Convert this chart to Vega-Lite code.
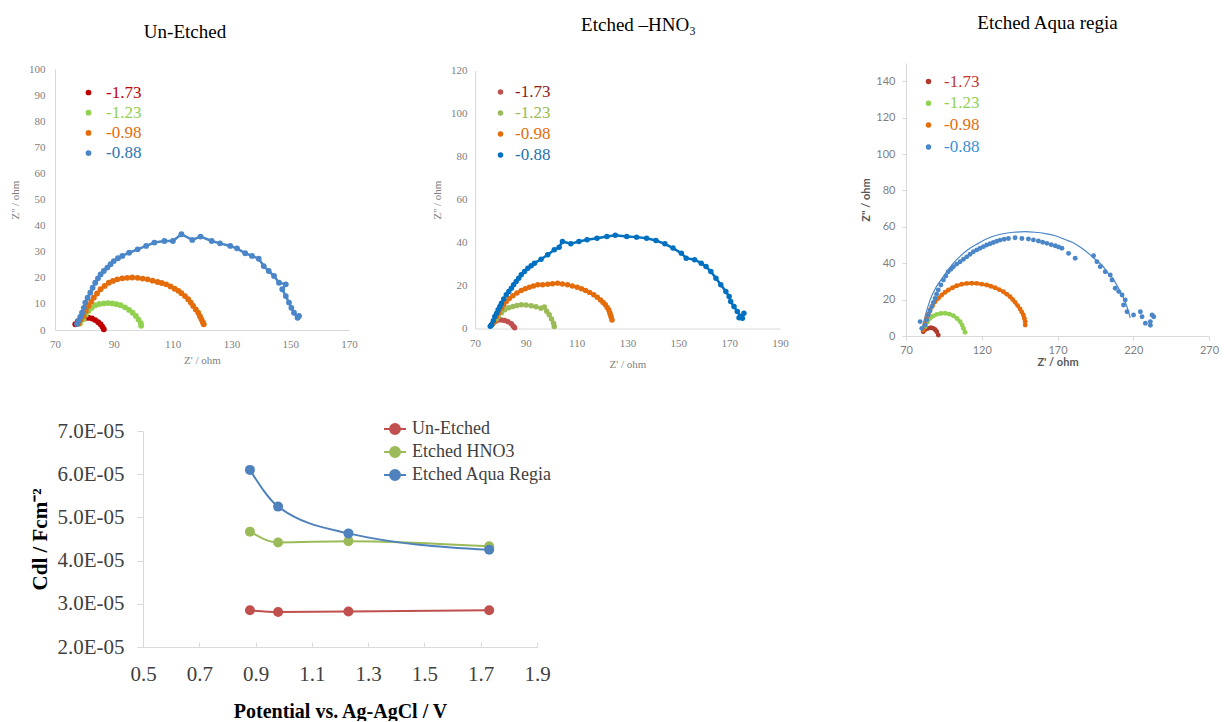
{
  "$schema": "https://vega.github.io/schema/vega-lite/v6.json",
  "padding": {"left": 9, "top": 14, "right": 0, "bottom": 0},
  "background": "white",
  "config": {
    "view": {"stroke": null},
    "font": "Liberation Serif",
    "axis": {"grid": false, "ticks": false, "domainColor": "#d9d9d9", "labelFont": "Liberation Serif", "labelFontSize": 11, "labelColor": "#808080", "titleFont": "Liberation Serif", "titleFontSize": 11, "titleFontWeight": "normal", "titleColor": "#808080", "labelOverlap": false, "labelFlush": false}
  },
  "datasets": {
    "p1": [
      {"s":"-1.73","x":76.9,"y":2.2},{"s":"-1.73","x":77.8,"y":3.4},{"s":"-1.73","x":79.2,"y":4.1},{"s":"-1.73","x":80.3,"y":4.6},{"s":"-1.73","x":81.4,"y":4.7},{"s":"-1.73","x":82.6,"y":4.4},{"s":"-1.73","x":83.7,"y":3.8},{"s":"-1.73","x":84.7,"y":3.0},{"s":"-1.73","x":85.5,"y":2.2},{"s":"-1.73","x":86.1,"y":1.3},{"s":"-1.73","x":86.6,"y":0.3},
      {"s":"-1.23","x":78.5,"y":2.5},{"s":"-1.23","x":79.7,"y":4.1},{"s":"-1.23","x":80.5,"y":5.8},{"s":"-1.23","x":81.4,"y":7.3},{"s":"-1.23","x":82.5,"y":8.5},{"s":"-1.23","x":83.7,"y":9.5},{"s":"-1.23","x":85.1,"y":10.0},{"s":"-1.23","x":86.6,"y":10.2},{"s":"-1.23","x":88.0,"y":10.3},{"s":"-1.23","x":89.5,"y":10.2},{"s":"-1.23","x":90.9,"y":9.9},{"s":"-1.23","x":92.3,"y":9.5},{"s":"-1.23","x":93.8,"y":8.7},{"s":"-1.23","x":95.2,"y":7.7},{"s":"-1.23","x":96.4,"y":6.6},{"s":"-1.23","x":97.5,"y":5.4},{"s":"-1.23","x":98.4,"y":4.0},{"s":"-1.23","x":99.2,"y":2.6},{"s":"-1.23","x":99.3,"y":1.6},
      {"s":"-0.98","x":78.0,"y":2.5},{"s":"-0.98","x":78.8,"y":4.0},{"s":"-0.98","x":79.7,"y":5.4},{"s":"-0.98","x":80.5,"y":7.3},{"s":"-0.98","x":81.4,"y":9.2},{"s":"-0.98","x":82.3,"y":10.8},{"s":"-0.98","x":83.2,"y":12.4},{"s":"-0.98","x":84.3,"y":14.0},{"s":"-0.98","x":85.5,"y":15.6},{"s":"-0.98","x":86.9,"y":16.9},{"s":"-0.98","x":88.3,"y":18.1},{"s":"-0.98","x":89.7,"y":18.8},{"s":"-0.98","x":91.2,"y":19.4},{"s":"-0.98","x":92.9,"y":19.8},{"s":"-0.98","x":94.6,"y":20.0},{"s":"-0.98","x":96.3,"y":20.1},{"s":"-0.98","x":98.1,"y":20.0},{"s":"-0.98","x":99.8,"y":19.7},{"s":"-0.98","x":101.5,"y":19.4},{"s":"-0.98","x":103.2,"y":18.9},{"s":"-0.98","x":104.9,"y":18.4},{"s":"-0.98","x":106.3,"y":18.0},{"s":"-0.98","x":107.8,"y":17.5},{"s":"-0.98","x":109.3,"y":16.7},{"s":"-0.98","x":110.7,"y":15.8},{"s":"-0.98","x":112.0,"y":15.0},{"s":"-0.98","x":113.0,"y":14.1},{"s":"-0.98","x":114.2,"y":13.0},{"s":"-0.98","x":115.3,"y":11.8},{"s":"-0.98","x":116.2,"y":10.5},{"s":"-0.98","x":117.0,"y":9.2},{"s":"-0.98","x":117.9,"y":7.9},{"s":"-0.98","x":118.7,"y":6.6},{"s":"-0.98","x":119.3,"y":5.3},{"s":"-0.98","x":119.8,"y":4.1},{"s":"-0.98","x":120.3,"y":3.0},{"s":"-0.98","x":120.6,"y":2.2},
      {"s":"-0.88","x":77.5,"y":2.3},{"s":"-0.88","x":78.0,"y":3.5},{"s":"-0.88","x":78.6,"y":5.0},{"s":"-0.88","x":79.2,"y":6.6},{"s":"-0.88","x":79.8,"y":8.5},{"s":"-0.88","x":80.3,"y":10.5},{"s":"-0.88","x":81.1,"y":12.4},{"s":"-0.88","x":82.0,"y":14.3},{"s":"-0.88","x":82.8,"y":16.2},{"s":"-0.88","x":83.7,"y":18.1},{"s":"-0.88","x":84.6,"y":19.8},{"s":"-0.88","x":85.5,"y":21.3},{"s":"-0.88","x":86.6,"y":22.6},{"s":"-0.88","x":87.8,"y":23.9},{"s":"-0.88","x":88.9,"y":25.2},{"s":"-0.88","x":90.0,"y":26.4},{"s":"-0.88","x":91.4,"y":27.5},{"s":"-0.88","x":92.9,"y":28.4},{"s":"-0.88","x":95.2,"y":29.6},{"s":"-0.88","x":98.1,"y":30.9},{"s":"-0.88","x":101.0,"y":32.2},{"s":"-0.88","x":103.8,"y":33.5},{"s":"-0.88","x":107.2,"y":34.1},{"s":"-0.88","x":110.1,"y":34.1},{"s":"-0.88","x":113.0,"y":36.7},{"s":"-0.88","x":116.7,"y":34.5},{"s":"-0.88","x":119.5,"y":35.8},{"s":"-0.88","x":123.3,"y":34.1},{"s":"-0.88","x":126.1,"y":33.2},{"s":"-0.88","x":129.6,"y":32.2},{"s":"-0.88","x":131.9,"y":31.3},{"s":"-0.88","x":134.7,"y":29.4},{"s":"-0.88","x":137.0,"y":28.4},{"s":"-0.88","x":139.3,"y":27.3},{"s":"-0.88","x":141.0,"y":24.5},{"s":"-0.88","x":142.7,"y":22.6},{"s":"-0.88","x":144.5,"y":20.7},{"s":"-0.88","x":146.2,"y":18.1},{"s":"-0.88","x":148.5,"y":17.5},{"s":"-0.88","x":147.3,"y":15.6},{"s":"-0.88","x":148.5,"y":13.0},{"s":"-0.88","x":149.6,"y":10.5},{"s":"-0.88","x":150.4,"y":8.5},{"s":"-0.88","x":151.3,"y":6.6},{"s":"-0.88","x":152.5,"y":4.7},{"s":"-0.88","x":153.0,"y":5.4}
    ],
    "p2": [
      {"s":"-1.73","x":76.5,"y":1.5},{"s":"-1.73","x":77.1,"y":2.5},{"s":"-1.73","x":78.1,"y":3.4},{"s":"-1.73","x":79.1,"y":4.0},{"s":"-1.73","x":80.4,"y":4.0},{"s":"-1.73","x":81.7,"y":3.7},{"s":"-1.73","x":83.0,"y":3.1},{"s":"-1.73","x":84.3,"y":2.2},{"s":"-1.73","x":85.0,"y":1.2},{"s":"-1.73","x":85.6,"y":0.4},
      {"s":"-1.23","x":77.5,"y":3.0},{"s":"-1.23","x":78.3,"y":4.3},{"s":"-1.23","x":79.1,"y":5.6},{"s":"-1.23","x":80.4,"y":7.3},{"s":"-1.23","x":81.7,"y":8.7},{"s":"-1.23","x":83.3,"y":9.6},{"s":"-1.23","x":84.9,"y":10.2},{"s":"-1.23","x":86.5,"y":10.7},{"s":"-1.23","x":88.2,"y":11.0},{"s":"-1.23","x":90.1,"y":10.9},{"s":"-1.23","x":92.1,"y":10.6},{"s":"-1.23","x":94.0,"y":10.1},{"s":"-1.23","x":96.0,"y":9.4},{"s":"-1.23","x":97.3,"y":10.0},{"s":"-1.23","x":98.2,"y":8.0},{"s":"-1.23","x":99.2,"y":6.4},{"s":"-1.23","x":100.1,"y":4.4},{"s":"-1.23","x":100.9,"y":2.5},{"s":"-1.23","x":101.2,"y":0.9},
      {"s":"-0.98","x":77.5,"y":3.0},{"s":"-0.98","x":78.5,"y":5.6},{"s":"-0.98","x":79.4,"y":7.5},{"s":"-0.98","x":80.4,"y":9.4},{"s":"-0.98","x":81.3,"y":11.0},{"s":"-0.98","x":82.3,"y":12.6},{"s":"-0.98","x":83.5,"y":14.0},{"s":"-0.98","x":84.9,"y":15.2},{"s":"-0.98","x":86.5,"y":16.5},{"s":"-0.98","x":88.2,"y":17.7},{"s":"-0.98","x":89.8,"y":18.5},{"s":"-0.98","x":91.4,"y":19.2},{"s":"-0.98","x":93.0,"y":19.8},{"s":"-0.98","x":94.7,"y":20.3},{"s":"-0.98","x":96.6,"y":20.4},{"s":"-0.98","x":98.6,"y":20.6},{"s":"-0.98","x":100.5,"y":20.8},{"s":"-0.98","x":102.5,"y":21.1},{"s":"-0.98","x":104.4,"y":20.7},{"s":"-0.98","x":106.4,"y":20.3},{"s":"-0.98","x":108.3,"y":19.8},{"s":"-0.98","x":110.2,"y":19.2},{"s":"-0.98","x":111.9,"y":18.5},{"s":"-0.98","x":113.5,"y":17.7},{"s":"-0.98","x":115.1,"y":16.8},{"s":"-0.98","x":116.7,"y":15.7},{"s":"-0.98","x":118.1,"y":14.5},{"s":"-0.98","x":119.4,"y":13.3},{"s":"-0.98","x":120.4,"y":12.1},{"s":"-0.98","x":121.3,"y":11.0},{"s":"-0.98","x":122.0,"y":9.8},{"s":"-0.98","x":122.6,"y":8.7},{"s":"-0.98","x":123.0,"y":7.5},{"s":"-0.98","x":123.3,"y":6.4},{"s":"-0.98","x":123.6,"y":5.2},{"s":"-0.98","x":123.9,"y":4.0},
      {"s":"-0.88","x":76.0,"y":1.0},{"s":"-0.88","x":76.5,"y":1.7},{"s":"-0.88","x":77.2,"y":3.6},{"s":"-0.88","x":77.8,"y":5.6},{"s":"-0.88","x":78.5,"y":7.1},{"s":"-0.88","x":79.1,"y":8.7},{"s":"-0.88","x":79.8,"y":10.2},{"s":"-0.88","x":80.4,"y":11.8},{"s":"-0.88","x":81.3,"y":13.7},{"s":"-0.88","x":82.3,"y":15.7},{"s":"-0.88","x":83.3,"y":17.2},{"s":"-0.88","x":84.3,"y":18.7},{"s":"-0.88","x":85.2,"y":20.3},{"s":"-0.88","x":86.2,"y":21.9},{"s":"-0.88","x":87.2,"y":23.4},{"s":"-0.88","x":88.2,"y":25.0},{"s":"-0.88","x":89.5,"y":26.5},{"s":"-0.88","x":90.8,"y":28.0},{"s":"-0.88","x":92.1,"y":29.2},{"s":"-0.88","x":93.4,"y":30.4},{"s":"-0.88","x":96.0,"y":32.2},{"s":"-0.88","x":98.6,"y":34.3},{"s":"-0.88","x":101.2,"y":36.6},{"s":"-0.88","x":103.1,"y":37.8},{"s":"-0.88","x":104.4,"y":40.5},{"s":"-0.88","x":107.7,"y":39.4},{"s":"-0.88","x":110.9,"y":40.5},{"s":"-0.88","x":114.1,"y":41.3},{"s":"-0.88","x":118.0,"y":42.0},{"s":"-0.88","x":121.9,"y":42.8},{"s":"-0.88","x":125.2,"y":43.4},{"s":"-0.88","x":129.7,"y":42.8},{"s":"-0.88","x":133.6,"y":42.5},{"s":"-0.88","x":137.5,"y":42.0},{"s":"-0.88","x":141.2,"y":40.9},{"s":"-0.88","x":144.7,"y":39.4},{"s":"-0.88","x":147.9,"y":37.4},{"s":"-0.88","x":151.2,"y":35.0},{"s":"-0.88","x":153.1,"y":32.7},{"s":"-0.88","x":156.4,"y":32.0},{"s":"-0.88","x":159.0,"y":30.4},{"s":"-0.88","x":160.9,"y":28.8},{"s":"-0.88","x":162.8,"y":26.5},{"s":"-0.88","x":164.8,"y":23.4},{"s":"-0.88","x":166.7,"y":20.3},{"s":"-0.88","x":168.7,"y":17.2},{"s":"-0.88","x":170.0,"y":14.9},{"s":"-0.88","x":170.6,"y":12.6},{"s":"-0.88","x":171.9,"y":10.2},{"s":"-0.88","x":173.2,"y":7.9},{"s":"-0.88","x":174.5,"y":5.6},{"s":"-0.88","x":173.9,"y":5.0},{"s":"-0.88","x":175.2,"y":4.8},{"s":"-0.88","x":175.8,"y":7.1}
    ],
    "p3": [
      {"s":"-1.73","x":81.4,"y":2.4},{"s":"-1.73","x":82.8,"y":3.6},{"s":"-1.73","x":84.7,"y":4.2},{"s":"-1.73","x":86.4,"y":4.5},{"s":"-1.73","x":88.0,"y":4.2},{"s":"-1.73","x":89.3,"y":3.4},{"s":"-1.73","x":90.3,"y":2.4},{"s":"-1.73","x":91.3,"y":0.5},
      {"s":"-1.23","x":82.6,"y":5.1},{"s":"-1.23","x":84.1,"y":7.6},{"s":"-1.23","x":85.9,"y":9.7},{"s":"-1.23","x":88.0,"y":11.0},{"s":"-1.23","x":90.3,"y":11.9},{"s":"-1.23","x":93.0,"y":12.4},{"s":"-1.23","x":95.8,"y":12.5},{"s":"-1.23","x":98.6,"y":12.0},{"s":"-1.23","x":101.3,"y":11.1},{"s":"-1.23","x":103.7,"y":9.6},{"s":"-1.23","x":105.7,"y":7.9},{"s":"-1.23","x":107.0,"y":6.0},{"s":"-1.23","x":107.9,"y":4.2},{"s":"-1.23","x":109.0,"y":2.0},
      {"s":"-0.98","x":81.4,"y":3.3},{"s":"-0.98","x":82.5,"y":6.5},{"s":"-0.98","x":83.7,"y":9.7},{"s":"-0.98","x":84.8,"y":12.0},{"s":"-0.98","x":85.9,"y":14.3},{"s":"-0.98","x":87.5,"y":16.6},{"s":"-0.98","x":89.2,"y":18.8},{"s":"-0.98","x":91.4,"y":20.7},{"s":"-0.98","x":93.6,"y":22.5},{"s":"-0.98","x":95.8,"y":24.0},{"s":"-0.98","x":98.0,"y":25.3},{"s":"-0.98","x":100.7,"y":26.5},{"s":"-0.98","x":103.5,"y":27.6},{"s":"-0.98","x":106.8,"y":28.4},{"s":"-0.98","x":110.1,"y":28.9},{"s":"-0.98","x":113.4,"y":29.0},{"s":"-0.98","x":116.7,"y":28.9},{"s":"-0.98","x":120.0,"y":28.5},{"s":"-0.98","x":123.3,"y":28.0},{"s":"-0.98","x":126.0,"y":27.3},{"s":"-0.98","x":128.8,"y":26.5},{"s":"-0.98","x":131.5,"y":25.5},{"s":"-0.98","x":134.3,"y":24.3},{"s":"-0.98","x":136.5,"y":23.0},{"s":"-0.98","x":138.7,"y":21.6},{"s":"-0.98","x":140.4,"y":20.1},{"s":"-0.98","x":142.0,"y":18.5},{"s":"-0.98","x":143.7,"y":16.7},{"s":"-0.98","x":145.3,"y":14.8},{"s":"-0.98","x":146.4,"y":13.2},{"s":"-0.98","x":147.5,"y":11.5},{"s":"-0.98","x":148.1,"y":9.7},{"s":"-0.98","x":148.7,"y":7.9},{"s":"-0.98","x":148.7,"y":6.0},
      {"s":"-0.88","x":79.3,"y":7.9},{"s":"-0.88","x":80.4,"y":4.2},{"s":"-0.88","x":82.6,"y":6.0},{"s":"-0.88","x":83.6,"y":8.8},{"s":"-0.88","x":84.7,"y":11.5},{"s":"-0.88","x":85.8,"y":13.8},{"s":"-0.88","x":87.0,"y":16.1},{"s":"-0.88","x":88.1,"y":18.4},{"s":"-0.88","x":89.2,"y":20.7},{"s":"-0.88","x":90.2,"y":23.0},{"s":"-0.88","x":91.3,"y":25.3},{"s":"-0.88","x":93.0,"y":28.0},{"s":"-0.88","x":94.7,"y":30.8},{"s":"-0.88","x":96.3,"y":33.0},{"s":"-0.88","x":97.9,"y":35.3},{"s":"-0.88","x":99.6,"y":36.7},{"s":"-0.88","x":101.3,"y":38.1},{"s":"-0.88","x":103.5,"y":39.5},{"s":"-0.88","x":105.7,"y":40.8},{"s":"-0.88","x":107.9,"y":42.2},{"s":"-0.88","x":110.1,"y":43.5},{"s":"-0.88","x":112.3,"y":44.9},{"s":"-0.88","x":114.5,"y":46.3},{"s":"-0.88","x":116.7,"y":47.3},{"s":"-0.88","x":118.9,"y":48.2},{"s":"-0.88","x":121.1,"y":49.1},{"s":"-0.88","x":123.3,"y":50.0},{"s":"-0.88","x":125.5,"y":50.7},{"s":"-0.88","x":127.7,"y":51.4},{"s":"-0.88","x":129.9,"y":52.1},{"s":"-0.88","x":132.1,"y":52.7},{"s":"-0.88","x":134.8,"y":53.2},{"s":"-0.88","x":137.6,"y":53.6},{"s":"-0.88","x":142.0,"y":54.0},{"s":"-0.88","x":146.5,"y":53.6},{"s":"-0.88","x":150.8,"y":53.3},{"s":"-0.88","x":154.1,"y":52.8},{"s":"-0.88","x":157.4,"y":52.2},{"s":"-0.88","x":160.2,"y":51.5},{"s":"-0.88","x":163.0,"y":50.9},{"s":"-0.88","x":165.8,"y":50.2},{"s":"-0.88","x":168.5,"y":49.6},{"s":"-0.88","x":170.7,"y":48.9},{"s":"-0.88","x":172.9,"y":48.2},{"s":"-0.88","x":177.3,"y":45.4},{"s":"-0.88","x":181.7,"y":42.7},{"s":"-0.88","x":193.8,"y":44.1},{"s":"-0.88","x":196.0,"y":40.8},{"s":"-0.88","x":198.2,"y":38.1},{"s":"-0.88","x":201.5,"y":35.3},{"s":"-0.88","x":204.8,"y":33.5},{"s":"-0.88","x":206.0,"y":30.8},{"s":"-0.88","x":208.1,"y":26.2},{"s":"-0.88","x":210.4,"y":24.4},{"s":"-0.88","x":212.6,"y":22.5},{"s":"-0.88","x":214.7,"y":19.8},{"s":"-0.88","x":213.6,"y":17.0},{"s":"-0.88","x":215.9,"y":13.3},{"s":"-0.88","x":220.2,"y":11.5},{"s":"-0.88","x":224.7,"y":13.3},{"s":"-0.88","x":225.8,"y":10.6},{"s":"-0.88","x":228.0,"y":7.0},{"s":"-0.88","x":231.3,"y":5.9},{"s":"-0.88","x":233.5,"y":10.6},{"s":"-0.88","x":232.4,"y":11.5},{"s":"-0.88","x":231.3,"y":7.9}
    ],
    "fit3": [
      {"x":80.4,"y":3.0},{"x":83.0,"y":12.0},{"x":86.0,"y":20.0},{"x":90.0,"y":27.0},{"x":95.0,"y":33.0},{"x":100.2,"y":39.0},{"x":106.0,"y":44.0},{"x":111.0,"y":47.5},{"x":117.8,"y":50.9},{"x":123.0,"y":53.3},{"x":128.8,"y":55.1},{"x":135.0,"y":56.3},{"x":141.0,"y":57.0},{"x":148.7,"y":57.3},{"x":155.0,"y":57.0},{"x":162.0,"y":56.3},{"x":168.5,"y":55.1},{"x":175.0,"y":53.0},{"x":181.0,"y":51.0},{"x":186.1,"y":48.2},{"x":191.0,"y":45.0},{"x":195.0,"y":42.0},{"x":199.3,"y":39.0},{"x":203.0,"y":35.0},{"x":207.0,"y":31.0},{"x":210.3,"y":26.2},{"x":213.0,"y":22.0},{"x":215.0,"y":18.0},{"x":216.9,"y":13.3},{"x":218.0,"y":10.0}
    ],
    "cdl": [
      {"g":"Un-Etched","v":0.88,"c":2.85e-5},{"g":"Un-Etched","v":0.98,"c":2.81e-5},{"g":"Un-Etched","v":1.23,"c":2.82e-5},{"g":"Un-Etched","v":1.73,"c":2.85e-5},
      {"g":"Etched HNO3","v":0.88,"c":4.67e-5},{"g":"Etched HNO3","v":0.98,"c":4.42e-5},{"g":"Etched HNO3","v":1.23,"c":4.45e-5},{"g":"Etched HNO3","v":1.73,"c":4.33e-5},
      {"g":"Etched Aqua Regia","v":0.88,"c":6.10e-5},{"g":"Etched Aqua Regia","v":0.98,"c":5.25e-5},{"g":"Etched Aqua Regia","v":1.23,"c":4.63e-5},{"g":"Etched Aqua Regia","v":1.73,"c":4.25e-5}
    ]
  },
  "spacing": 47,
  "resolve": {"scale": {"x": "independent", "y": "independent", "color": "independent"}, "legend": {"color": "independent"}},
  "vconcat": [
    {
      "hconcat": [
        {
          "width": 294, "height": 261,
          "title": {"text": "Un-Etched", "font": "Liberation Serif", "fontSize": 19, "fontWeight": "normal", "color": "#000000", "anchor": "middle", "frame": "group", "dx": -17, "offset": 21},
          "data": {"name": "p1"},
          "encoding": {
            "x": {"field": "x", "type": "quantitative", "scale": {"domain": [70, 170], "nice": false, "zero": false}, "axis": {"title": "Z' / ohm", "values": [70, 90, 110, 130, 150, 170], "labelPadding": 8, "titlePadding": 5}},
            "y": {"field": "y", "type": "quantitative", "scale": {"domain": [0, 100], "nice": false}, "axis": {"title": "Z'' / ohm", "values": [0, 10, 20, 30, 40, 50, 60, 70, 80, 90, 100], "labelPadding": 10, "titlePadding": 8}},
            "color": {"field": "s", "type": "nominal", "scale": {"domain": ["-1.73", "-1.23", "-0.98", "-0.88"], "range": ["#c00000", "#92d050", "#e46c0a", "#4a86c8"]},
              "legend": {"orient": "none", "legendX": 25, "legendY": 15, "title": null, "symbolType": "circle", "symbolSize": 18, "labelFont": "Liberation Serif", "labelFontSize": 17, "labelOffset": 9, "rowPadding": 2.2, "padding": 0,
                "encode": {"labels": {"update": {"font": {"value": "Liberation Serif"}, "fontSize": {"value": 17}, "fill": {"signal": "datum.value === '-1.73' ? '#c00000' : datum.value === '-1.23' ? '#92d050' : datum.value === '-0.98' ? '#e46c0a' : '#2e75b6'"}}},
                           "symbols": {"update": {"fill": {"signal": "datum.value === '-1.73' ? '#c00000' : datum.value === '-1.23' ? '#92d050' : datum.value === '-0.98' ? '#e46c0a' : '#2e75b6'"}, "stroke": {"value": "transparent"}, "opacity": {"value": 1}}}}}}
          },
          "layer": [
            {"mark": {"type": "line", "strokeWidth": 2.5}, "encoding": {"order": {"value": null}, "strokeWidth": {"condition": {"test": "datum.s === '-0.88'", "value": 1}, "value": 3}}},
            {"mark": {"type": "point", "filled": true, "size": 34, "opacity": 1}}
          ]
        },
        {
          "width": 305, "height": 258,
          "title": {"text": "Etched –HNO₃", "font": "Liberation Serif", "fontSize": 19, "fontWeight": "normal", "color": "#000000", "anchor": "middle", "frame": "group", "dx": 11, "offset": 30},
          "data": {"name": "p2"},
          "encoding": {
            "x": {"field": "x", "type": "quantitative", "scale": {"domain": [70, 190], "nice": false, "zero": false}, "axis": {"title": "Z' / ohm", "values": [70, 90, 110, 130, 150, 170, 190], "labelPadding": 9, "titlePadding": 10}},
            "y": {"field": "y", "type": "quantitative", "scale": {"domain": [0, 120], "nice": false}, "axis": {"title": "Z'' / ohm", "values": [0, 20, 40, 60, 80, 100, 120], "labelPadding": 8, "titlePadding": 8}},
            "color": {"field": "s", "type": "nominal", "scale": {"domain": ["-1.73", "-1.23", "-0.98", "-0.88"], "range": ["#c0504d", "#9bbb59", "#e46c0a", "#0070c0"]},
              "legend": {"orient": "none", "legendX": 17, "legendY": 13, "title": null, "symbolType": "circle", "symbolSize": 16, "labelFont": "Liberation Serif", "labelFontSize": 17, "labelOffset": 6, "rowPadding": 3, "padding": 0,
                "encode": {"labels": {"update": {"font": {"value": "Liberation Serif"}, "fontSize": {"value": 17}, "fill": {"signal": "datum.value === '-1.73' ? '#8b1a1a' : datum.value === '-1.23' ? '#9bbb59' : datum.value === '-0.98' ? '#e46c0a' : '#1f6fb2'"}}},
                           "symbols": {"update": {"fill": {"signal": "datum.value === '-1.73' ? '#c00000' : datum.value === '-1.23' ? '#9bbb59' : datum.value === '-0.98' ? '#e46c0a' : '#0070c0'"}, "stroke": {"value": "transparent"}, "opacity": {"value": 1}}}}}}
          },
          "layer": [
            {"mark": {"type": "line", "strokeWidth": 2.5}, "encoding": {"order": {"value": null}, "strokeWidth": {"condition": {"test": "datum.s === '-0.88'", "value": 1}, "value": 3}}},
            {"mark": {"type": "point", "filled": true, "size": 30, "opacity": 1}}
          ]
        },
        {
          "width": 303, "height": 273,
          "title": {"text": "Etched Aqua regia", "font": "Liberation Serif", "fontSize": 19, "fontWeight": "normal", "color": "#000000", "anchor": "middle", "frame": "group", "dx": -10, "offset": 30},
          "data": {"name": "p3"},
          "encoding": {
            "x": {"field": "x", "type": "quantitative", "scale": {"domain": [70, 270], "nice": false, "zero": false}, "axis": {"title": "Z' / ohm", "values": [70, 120, 170, 220, 270], "ticks": true, "tickSize": 4, "tickColor": "#d9d9d9", "labelFont": "Lato", "labelFontSize": 11, "labelColor": "#7f7f7f", "labelPadding": 4, "titleFont": "Lato", "titleFontWeight": "bold", "titleFontSize": 11, "titleColor": "#595959", "titlePadding": 1}},
            "y": {"field": "y", "type": "quantitative", "scale": {"domain": [0, 150], "nice": false}, "axis": {"title": "Z'' / ohm", "values": [0, 20, 40, 60, 80, 100, 120, 140], "ticks": true, "tickSize": 4, "tickColor": "#d9d9d9", "labelFont": "Lato", "labelFontSize": 11, "labelColor": "#7f7f7f", "labelPadding": 7, "titleFont": "Lato", "titleFontWeight": "bold", "titleFontSize": 11, "titleColor": "#595959", "titlePadding": 4}},
            "color": {"field": "s", "type": "nominal", "scale": {"domain": ["-1.73", "-1.23", "-0.98", "-0.88"], "range": ["#b03a2e", "#92d050", "#e46c0a", "#4a86c8"]},
              "legend": {"orient": "none", "legendX": 14, "legendY": 10, "title": null, "symbolType": "circle", "symbolSize": 16, "labelFont": "Liberation Serif", "labelFontSize": 17, "labelOffset": 7, "rowPadding": 3.8, "padding": 0,
                "encode": {"labels": {"update": {"font": {"value": "Liberation Serif"}, "fontSize": {"value": 17}, "fill": {"signal": "datum.value === '-1.73' ? '#c0392b' : datum.value === '-1.23' ? '#92d050' : datum.value === '-0.98' ? '#e46c0a' : '#3a8fd8'"}}},
                           "symbols": {"update": {"fill": {"signal": "datum.value === '-1.73' ? '#c00000' : datum.value === '-1.23' ? '#92d050' : datum.value === '-0.98' ? '#e46c0a' : '#3a8fd8'"}, "stroke": {"value": "transparent"}, "opacity": {"value": 1}}}}}}
          },
          "layer": [
            {
              "transform": [{"filter": "datum.s !== '-0.88'"}],
              "mark": {"type": "line", "strokeWidth": 3},
              "encoding": {"order": {"value": null}}
            },
            {
              "data": {"name": "fit3"},
              "mark": {"type": "line", "strokeWidth": 1.2, "interpolate": "monotone"},
              "encoding": {"color": {"value": "#4a86c8"}, "order": {"value": null}}
            },
            {
              "mark": {"type": "point", "filled": true, "size": 24, "opacity": 1}
            }
          ]
        }
      ],
      "spacing": 126,
      "bounds": "flush",
      "center": true,
      "resolve": {"scale": {"x": "independent", "y": "independent", "color": "independent"}, "legend": {"color": "independent"}}
    },
    {
      "hconcat": [
        {"width": 1, "height": 1, "data": {"values": [{"a": 1}]}, "mark": {"type": "point", "opacity": 0}, "encoding": {}},
        {
          "width": 394, "height": 216,
          "data": {"name": "cdl"},
          "encoding": {
            "x": {"field": "v", "type": "quantitative", "scale": {"domain": [0.5, 1.9], "nice": false, "zero": false},
              "axis": {"title": "Potential vs. Ag-AgCl / V", "values": [0.5, 0.7, 0.9, 1.1, 1.3, 1.5, 1.7, 1.9], "format": ".1f", "ticks": true, "tickSize": -5, "tickColor": "#d9d9d9", "labelFont": "Liberation Serif", "labelFontSize": 21, "labelColor": "#404040", "labelPadding": 21, "titleFont": "Liberation Serif", "titleFontSize": 20, "titleFontWeight": "bold", "titleColor": "#000000", "titlePadding": 17}},
            "y": {"field": "c", "type": "quantitative", "scale": {"domain": [2e-5, 7e-5], "nice": false, "zero": false},
              "axis": {"title": "Cdl / Fcm⁻²", "values": [2e-5, 3e-5, 4e-5, 5e-5, 6e-5, 7e-5], "labelExpr": "format(datum.value*100000, '.1f') + 'E-05'", "ticks": true, "tickSize": 6, "tickColor": "#d9d9d9", "labelFont": "Liberation Serif", "labelFontSize": 21, "labelColor": "#404040", "labelPadding": 13, "titleFont": "Liberation Serif", "titleFontSize": 21, "titleFontWeight": "bold", "titleColor": "#000000", "titlePadding": 6}},
            "color": {"field": "g", "type": "nominal", "scale": {"domain": ["Un-Etched", "Etched HNO3", "Etched Aqua Regia"], "range": ["#c0504d", "#9bbb59", "#4f81bd"]},
              "legend": {"orient": "none", "legendX": 328, "legendY": -14, "title": null, "symbolType": "M-1,0L1,0M0.45,0A0.45,0.45,0,1,1,-0.45,0A0.45,0.45,0,1,1,0.45,0Z", "symbolSize": 484, "symbolStrokeWidth": 2, "labelFont": "Liberation Serif", "labelFontSize": 18, "labelColor": "#404040", "labelOffset": 5, "rowPadding": 2, "padding": 0,
                "encode": {"symbols": {"update": {"fill": {"signal": "datum.value === 'Un-Etched' ? '#c0504d' : datum.value === 'Etched HNO3' ? '#9bbb59' : '#4f81bd'"}, "stroke": {"signal": "datum.value === 'Un-Etched' ? '#c0504d' : datum.value === 'Etched HNO3' ? '#9bbb59' : '#4f81bd'"}, "opacity": {"value": 1}, "strokeWidth": {"value": 2}}}}}}
          },
          "layer": [
            {"mark": {"type": "line", "strokeWidth": 2, "interpolate": "monotone"}},
            {"mark": {"type": "point", "filled": true, "size": 100, "opacity": 1}}
          ]
        }
      ],
      "spacing": 87,
      "bounds": "flush"
    }
  ]
}
